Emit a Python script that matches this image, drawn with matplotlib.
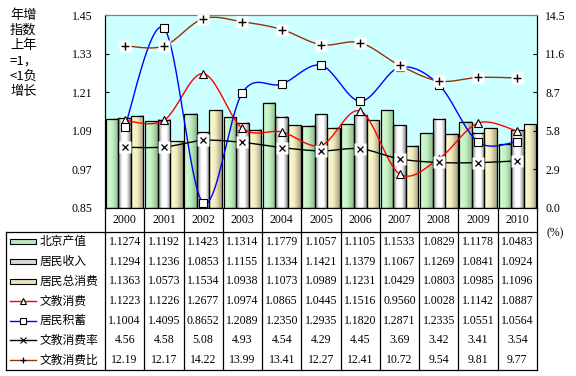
import numpy as np
import matplotlib.pyplot as plt
from matplotlib.patches import Rectangle
from matplotlib.lines import Line2D
import matplotlib.transforms as mtransforms

years = ['2000', '2001', '2002', '2003', '2004', '2005', '2006', '2007', '2008', '2009', '2010']
bj_output = [1.1274, 1.1192, 1.1423, 1.1314, 1.1779, 1.1057, 1.1105, 1.1533, 1.0829, 1.1178, 1.0483]
income = [1.1294, 1.1236, 1.0853, 1.1155, 1.1334, 1.1421, 1.1379, 1.1067, 1.1269, 1.0841, 1.0924]
consumption = [1.1363, 1.0573, 1.1534, 1.0938, 1.1073, 1.0989, 1.1231, 1.0429, 1.0803, 1.0985, 1.1096]
edu_spend = [1.1223, 1.1226, 1.2677, 1.0974, 1.0865, 1.0445, 1.1516, 0.9560, 1.0028, 1.1142, 1.0887]
savings = [1.1004, 1.4095, 0.8652, 1.2089, 1.2350, 1.2935, 1.1820, 1.2871, 1.2335, 1.0551, 1.0564]
edu_rate = [4.56, 4.58, 5.08, 4.93, 4.54, 4.29, 4.45, 3.69, 3.42, 3.41, 3.54]
edu_ratio = [12.19, 12.17, 14.22, 13.99, 13.41, 12.27, 12.41, 10.72, 9.54, 9.81, 9.77]

bar_names = ['北京产值', '居民收入', '居民总消费']
line_names = ['文教消费', '居民积蓄', '文教消费率', '文教消费比']

W, H = 576, 376
NUM_FONT = ['Liberation Serif', 'DejaVu Serif']
CJK_FONT = ['Noto Sans CJK SC', 'DejaVu Sans']


def fx(px):
    return px / W


def fy(py):
    return 1 - py / H


def smooth(xs, ys, n=24):
    # excel-style smoothed line (bezier through the points)
    p = np.column_stack([xs, ys]).astype(float)
    pts = np.vstack([p[0], p, p[-1]])
    t = np.linspace(0, 1, n)[:, None]
    out = []
    for i in range(1, len(pts) - 2):
        p0, p1, p2, p3 = pts[i - 1], pts[i], pts[i + 1], pts[i + 2]
        c1 = p1 + (p2 - p0) / 6
        c2 = p2 - (p3 - p1) / 6
        out.append((1 - t) ** 3 * p1 + 3 * (1 - t) ** 2 * t * c1 + 3 * (1 - t) * t ** 2 * c2 + t ** 3 * p2)
    out = np.vstack(out)
    return out[:, 0], out[:, 1]


def gradient(colors, n=32):
    stops = np.array([[int(c[i:i + 2], 16) / 255 for i in (1, 3, 5)] for c in colors])
    pos = np.linspace(0, 1, len(stops))
    xs = np.linspace(0, 1, n)
    return np.stack([np.interp(xs, pos, stops[:, k]) for k in range(3)], axis=-1)[None, :, :]


fig = plt.figure(figsize=(W / 100, H / 100), dpi=100)
ax = fig.add_axes([fx(105), fy(208), fx(537) - fx(105), fy(15) - fy(208)])
ax.set_facecolor('#CCFFFF')

ymin, ymax = 0.85, 1.45
x = np.arange(len(years))
bw = 0.32
grads = [
    gradient(['#D4FFD4', '#C4F0C4', '#8CB88C']),
    gradient(['#8A8A8A', '#FFFFFF', '#FFFFFF', '#8A8A8A']),
    gradient(['#FFFFD0', '#F0ECC0', '#A8A080']),
]
bar_mid = ['#BDE8BD', '#D8D8D8', '#E8E4B8']
for k, vals in enumerate([bj_output, income, consumption]):
    xs = x + (k - 1) * bw
    bars = ax.bar(xs, np.array(vals) - ymin, bw, bottom=ymin, facecolor='none',
                  edgecolor='black', linewidth=0.9, zorder=3)
    for b in bars:
        ax.imshow(grads[k], extent=(b.get_x(), b.get_x() + bw, ymin, b.get_y() + b.get_height()),
                  aspect='auto', interpolation='bilinear', zorder=2)

ax.set_xlim(-0.5, len(years) - 0.5)
ax.set_ylim(ymin, ymax)
ax.set_yticks([0.85, 0.97, 1.09, 1.21, 1.33, 1.45])
ax.set_yticklabels(['0.85', '0.97', '1.09', '1.21', '1.33', '1.45'], fontfamily=NUM_FONT, fontsize=8.5)
ax.tick_params(axis='y', direction='in', length=3, pad=9, width=0.8)
ax.set_xticks([])
for s in ('left', 'bottom', 'right'):
    ax.spines[s].set_color('black')
ax.spines['top'].set_color('#808080')

# left axis lines
sx, sy = smooth(x, edu_spend)
ax.plot(sx, sy, color='#FF0000', lw=1.0, zorder=5)
ax.plot(x, edu_spend, ls='none', marker='^', ms=6, mfc='white', mec='black', mew=0.8, zorder=6)
sx, sy = smooth(x, savings)
ax.plot(sx, sy, color='#0000FF', lw=1.0, zorder=5)
ax.plot(x, savings, ls='none', marker='s', ms=5.5, mfc='white', mec='black', mew=0.8, zorder=6)

# right axis lines
ax2 = ax.twinx()
ax2.set_ylim(0, 14.5)
ax2.set_yticks([0.0, 2.9, 5.8, 8.7, 11.6, 14.5])
ax2.set_yticklabels(['0.0', '2.9', '5.8', '8.7', '11.6', '14.5'], fontfamily=NUM_FONT, fontsize=8.5)
ax2.tick_params(axis='y', direction='in', length=3, pad=6, width=0.8)
ax2.spines['top'].set_color('#808080')
ax2.spines['right'].set_color('black')

sx, sy = smooth(x, edu_rate)
ax2.plot(sx, sy, color='black', lw=1.0, zorder=5)
ax2.plot(x, edu_rate, ls='none', marker='s', ms=8, mfc='white', mec='none', zorder=6)
ax2.plot(x, edu_rate, ls='none', marker='x', ms=5, mec='black', mew=0.9, zorder=7)
sx, sy = smooth(x, edu_ratio)
ax2.plot(sx, sy, color='#993300', lw=1.0, zorder=5)
ax2.plot(x, edu_ratio, ls='none', marker='s', ms=8, mfc='white', mec='none', zorder=6)
ax2.plot(x, edu_ratio, ls='none', marker='+', ms=6, mec='black', mew=1.0, zorder=7)

# y label, stacked
for i, s in enumerate(['年增', '指数', '上年', '=1，', '<1负', '增长']):
    fig.text(fx(10), fy(15 + i * 15.4), s, fontsize=9.5, fontfamily=CJK_FONT, va='center', ha='left')
fig.text(fx(555), fy(233), '(%)', fontsize=8.5, fontfamily=NUM_FONT, ha='center', va='center')

# data table
tb = mtransforms.blended_transform_factory(ax.transData, fig.transFigure)
tf = fig.transFigure
top_h, top_t, bot = 208, 232, 370
row_h = (bot - top_t) / 7
for k in range(len(years) + 1):
    fig.add_artist(Line2D([k - 0.5, k - 0.5], [fy(top_h), fy(bot)], transform=tb, color='black', lw=0.9))
for py in (top_t, bot):
    fig.add_artist(Line2D([fx(6), fx(537)], [fy(py), fy(py)], transform=tf, color='black', lw=0.9))
fig.add_artist(Line2D([fx(6), fx(6)], [fy(top_t), fy(bot)], transform=tf, color='black', lw=0.9))

for i, yr in enumerate(years):
    fig.text(i, fy(220), yr, transform=tb, fontsize=8.5, fontfamily=NUM_FONT, ha='center', va='center')

rows = [bj_output, income, consumption, edu_spend, savings, edu_rate, edu_ratio]
fmts = ['{:.4f}'] * 5 + ['{:.2f}'] * 2
labels = bar_names + line_names
for r, (vals, fmt) in enumerate(zip(rows, fmts)):
    cy = fy(top_t + row_h * (r + 0.5))
    for i, v in enumerate(vals):
        fig.text(i, cy, fmt.format(v), transform=tb, fontsize=8.5, fontfamily=NUM_FONT,
                 ha='center', va='center')
    fig.text(fx(40), cy, labels[r], fontsize=8.5, fontfamily=CJK_FONT, ha='left', va='center')

# legend keys
for r in range(3):
    cy = top_t + row_h * (r + 0.5)
    fig.add_artist(Rectangle((fx(10), fy(cy + 2.5)), fx(36) - fx(10), fy(cy - 2.5) - fy(cy + 2.5),
                             transform=tf, facecolor=bar_mid[r], edgecolor='black', lw=0.8))
key_style = [
    ('#FF0000', dict(marker='^', ms=5, mfc='white', mec='black', mew=0.8)),
    ('#0000FF', dict(marker='s', ms=4.5, mfc='white', mec='black', mew=0.8)),
    ('black', dict(marker='x', ms=4, mec='black', mew=0.8)),
    ('#993300', dict(marker='+', ms=5, mec='black', mew=0.9)),
]
for r, (col, mk) in enumerate(key_style):
    cy = fy(top_t + row_h * (r + 3.5))
    fig.add_artist(Line2D([fx(10), fx(36)], [cy, cy], transform=tf, color=col, lw=1.0))
    fig.add_artist(Line2D([fx(23)], [cy], transform=tf, ls='none', **mk))

fig.savefig('out.png', dpi=100)
